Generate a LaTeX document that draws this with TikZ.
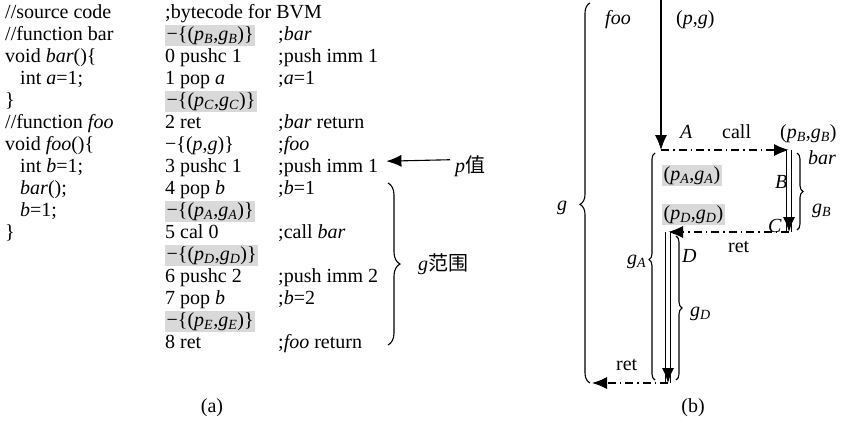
\documentclass[tikz,border=0pt]{standalone}
\usepackage{fontspec}
\setmainfont{Liberation Serif}
\newfontfamily\cjk{Noto Sans CJK SC}
\usetikzlibrary{arrows.meta,decorations.pathreplacing,positioning,calc}

\newcommand{\pg}[1]{(\textit{p}\textsubscript{\textit{#1}},\textit{g}\textsubscript{\textit{#1}})}

\tikzset{
  code/.style={anchor=base west, inner sep=0pt},
  hl/.style={anchor=base west, inner sep=1.5pt, fill=black!15},
  flow/.style={line width=1.1pt, -{Latex[length=15pt,width=12pt]}},
  jump/.style={line width=1.1pt, dash pattern=on 8pt off 4pt on 1.5pt off 4pt, -{Latex[length=15pt,width=12pt]}},
  dbl/.style={double, double distance=4pt, line width=1pt},
  brc/.style={decorate, decoration={brace, amplitude=8pt}, line width=1.1pt}
}

\begin{document}
\fontsize{20}{22}\selectfont
\begin{tikzpicture}[x=1pt,y=-1pt]
  \useasboundingbox (0,0) rectangle (841,445);
  % source code column
  \path (5,18) node[code] (s0) {//source code};
  \path (5,40) node[code] (s1) {//function bar};
  \path (5,62) node[code] (s2) {void \textit{bar}()\{};
  \path (20,84) node[code] (s3) {int \textit{a}=1;};
  \path (5,106) node[code] (s4) {\}};
  \path (5,128) node[code] (s5) {//function \textit{foo}};
  \path (5,150) node[code] (s6) {void \textit{foo}()\{};
  \path (20,172) node[code] (s7) {int \textit{b}=1;};
  \path (20,194) node[code] (s8) {\textit{bar}();};
  \path (20,216) node[code] (s9) {\textit{b}=1;};
  \path (5,238) node[code] (s10) {\}};
  % bytecode column
  \path (165,18) node[code] (b0) {;bytecode for BVM};
  \path (165,40) node[hl] (b1) {−\{\pg{B}\}};
  \path (165,62) node[code] (b2) {0 pushc 1};
  \path (165,84) node[code] (b3) {1 pop \textit{a}};
  \path (165,106) node[hl] (b4) {−\{\pg{C}\}};
  \path (165,128) node[code] (b5) {2 ret};
  \path (165,150) node[code] (b6) {−\{(\textit{p},\textit{g})\}};
  \path (165,172) node[code] (b7) {3 pushc 1};
  \path (165,194) node[code] (b8) {4 pop \textit{b}};
  \path (165,216) node[hl] (b9) {−\{\pg{A}\}};
  \path (165,238) node[code] (b10) {5 cal 0};
  \path (165,260) node[hl] (b11) {−\{\pg{D}\}};
  \path (165,282) node[code] (b12) {6 pushc 2};
  \path (165,304) node[code] (b13) {7 pop \textit{b}};
  \path (165,326) node[hl] (b14) {−\{\pg{E}\}};
  \path (165,348) node[code] (b15) {8 ret};
  % comment column
  \path (278,40) node[code] (c1) {;\textit{bar}};
  \path (278,62) node[code] (c2) {;push imm 1};
  \path (278,84) node[code] (c3) {;\textit{a}=1};
  \path (278,128) node[code] (c5) {;\textit{bar} return};
  \path (278,150) node[code] (c6) {;\textit{foo}};
  \path (278,172) node[code] (c7) {;push imm 1};
  \path (278,194) node[code] (c8) {;\textit{b}=1};
  \path (278,238) node[code] (c10) {;call \textit{bar}};
  \path (278,282) node[code] (c12) {;push imm 2};
  \path (278,304) node[code] (c13) {;\textit{b}=2};
  \path (278,348) node[code] (c15) {;\textit{foo} return};
  % p pointer and g range of foo
  \path (455,172) node[code] (pval) {\textit{p}{\cjk 值}};
  \draw[flow] (pval.west) ++(-5,-6) coordinate (pstart) (pstart) -- ($(c7.east)+(8,-6)$);
  \draw[brc, decoration={amplitude=12pt}] (388,183) -- (388,345);
  \path (418,270) node[code] (grange) {\textit{g}{\cjk 范围}};
  \path (212,408) node (capa) {(a)};

  % control flow of foo and bar
  \coordinate (top) at (661,0);
  \coordinate (A) at (661,150);
  \coordinate (Bt) at (789,150);
  \coordinate (C) at (789,232);
  \coordinate (D) at (668,232);
  \coordinate (E) at (668,383);
  \coordinate (R) at (592,383);
  \draw[flow] (top) -- (A);
  \draw[jump] (A) -- (Bt);
  \draw[dbl] (Bt) -- (C);
  \draw[flow] ($(C)+(0,-14)$) -- (C);
  \draw[jump] (C) -- (D);
  \draw[dbl] (D) -- (E);
  \draw[flow] ($(E)+(0,-14)$) -- (E);
  \draw[jump] (E) -- (R);
  % braces
  \draw[brc, decoration={amplitude=10pt, aspect=0.47}] (590,383) -- (590,3);
  \draw[brc, decoration={amplitude=6pt, aspect=0.53}] (655,380) -- (655,153);
  \draw[brc, decoration={amplitude=6pt}] (797,153) -- (797,230);
  \draw[brc, decoration={amplitude=6pt}] (676,236) -- (676,380);
  % labels
  \path (605,24) node[code] (foo) {\textit{foo}};
  \path (676,24) node[code] (pg) {(\textit{p},\textit{g})};
  \path (680,138) node[code] (lA) {\textit{A}};
  \path (722,138) node[code] (call) {call};
  \path (780,138) node[code] (pgB) {\pg{B}};
  \path (808,164) node[code] (bar) {\textit{bar}};
  \path (662,180) node[hl] (pgA) {\pg{A}};
  \path (775,188) node[code] (lB) {\textit{B}};
  \path (812,213) node[code] (gB) {\textit{g}\textsubscript{\textit{B}}};
  \path (662,219) node[hl] (pgD) {\pg{D}};
  \path (768,232) node[code] (lC) {\textit{C}};
  \path (728,252) node[code] (ret1) {ret};
  \path (682,262) node[code] (lD) {\textit{D}};
  \path (627,264) node[code] (gA) {\textit{g}\textsubscript{\textit{A}}};
  \path (690,316) node[code] (gD) {\textit{g}\textsubscript{\textit{D}}};
  \path (616,370) node[code] (ret2) {ret};
  \path (557,210) node[code] (g) {\textit{g}};
  \path (693,408) node (capb) {(b)};
\end{tikzpicture}
\end{document}
